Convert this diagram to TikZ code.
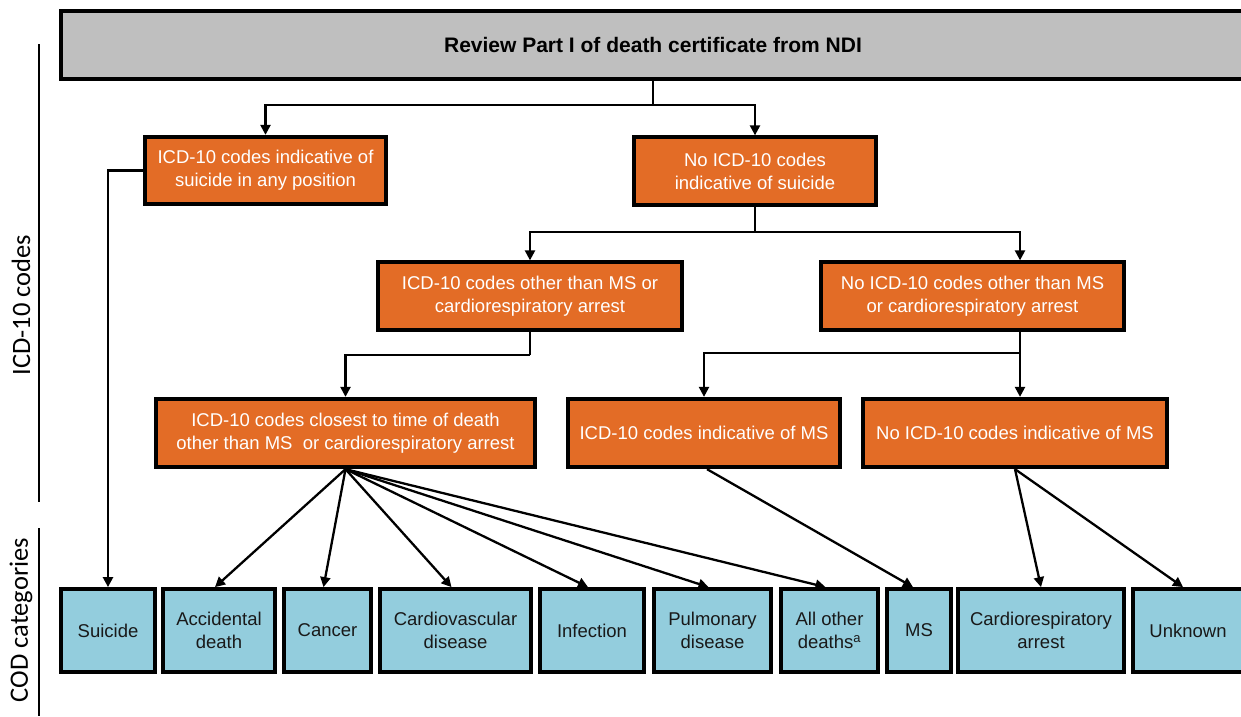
\documentclass[tikz,border=0pt]{standalone}
\usepackage{xcolor}
\usepackage{fontspec}
\setmainfont{Liberation Sans}
\newfontfamily\sidefont{Carlito}
\usepackage{tikz}
\usetikzlibrary{shapes,arrows,arrows.meta,positioning,calc}
\definecolor{codeorange}{HTML}{E36C26}
\definecolor{catblue}{HTML}{93CDDD}
\definecolor{headgray}{HTML}{BFBFBF}

\begin{document}
\begin{tikzpicture}[x=1pt, y=-1pt,
    header/.style={rectangle, draw, line width=3.8pt, fill=headgray, inner sep=0pt, minimum width=1184pt, minimum height=68pt, font=\fontsize{21}{25}\selectfont\bfseries},
    decision/.style={rectangle, draw, line width=3.8pt, fill=codeorange, text=white, inner sep=0pt, minimum height=67.5pt, align=center, font=\fontsize{18.5}{23}\selectfont},
    category/.style={rectangle, draw, line width=3.8pt, fill=catblue, text=black!90, inner sep=0pt, minimum height=83pt, align=center, font=\fontsize{18.5}{23}\selectfont},
    arrow/.style={-{Triangle[length=10pt,width=10pt]}, line width=2.3pt},
    link/.style={line width=2.3pt}
]
    \useasboundingbox (0,0) rectangle (1241,716);

    % Side labels
    \draw[line width=1.3pt] (39,44) -- (39,502);
    \draw[line width=1.3pt] (39,528) -- (39,716);
    \node[rotate=90, font=\sidefont\fontsize{26.5}{30}\selectfont] (icdlabel) at (21,305) {ICD-10 codes};
    \node[rotate=90, font=\sidefont\fontsize{26.5}{30}\selectfont] (codlabel) at (21,620) {COD categories};

    % Review step
    \node[header] (review) at (653,45) {Review Part I of death certificate from NDI};

    % ICD-10 code decisions
    \node[decision, minimum width=241.5pt] (suicbox) at (265.5,170.5) {ICD-10 codes indicative of\\suicide in any position};
    \node[decision, minimum width=242.5pt] (nosuic) at (755,171) {No ICD-10 codes\\indicative of suicide};
    \node[decision, minimum width=304.5pt] (othercodes) at (530,296) {ICD-10 codes other than MS or\\cardiorespiratory arrest};
    \node[decision, minimum width=303.5pt] (noother) at (972.5,296) {No ICD-10 codes other than MS\\or cardiorespiratory arrest};
    \node[decision, minimum width=379.5pt, minimum height=68.5pt] (closest) at (345.5,433) {ICD-10 codes closest to time of death\\other than MS~ or cardiorespiratory arrest};
    \node[decision, minimum width=272.5pt, minimum height=68.5pt] (msbox) at (704,433) {ICD-10 codes indicative of MS};
    \node[decision, minimum width=304.5pt, minimum height=68.5pt] (nomsbox) at (1015,433) {No ICD-10 codes indicative of MS};

    % COD categories
    \node[category, minimum width=94.5pt] (suicide) at (108,630.5) {Suicide};
    \node[category, minimum width=112.5pt] (accident) at (219,630.5) {Accidental\\death};
    \node[category, minimum width=87.5pt] (cancer) at (327.5,630.5) {Cancer};
    \node[category, minimum width=151.5pt] (cardiovasc) at (455.5,630.5) {Cardiovascular\\disease};
    \node[category, minimum width=104.5pt] (infection) at (592,630.5) {Infection};
    \node[category, minimum width=117.5pt] (pulmonary) at (712.5,630.5) {Pulmonary\\disease};
    \node[category, minimum width=97.5pt] (allother) at (829.5,630.5) {All other\\deaths\textsuperscript{a}};
    \node[category, minimum width=64.5pt] (mscat) at (919,630.5) {MS};
    \node[category, minimum width=166.5pt] (cardioresp) at (1041,630.5) {Cardiorespiratory\\arrest};
    \node[category, minimum width=110.5pt] (unknown) at (1188,630.5) {Unknown};

    % Branch points
    \coordinate (split1) at (653,105);
    \coordinate (split2) at (755,232);
    \coordinate (split3) at (1020,353);
    \coordinate (split4) at (530,355);

    % Arrows
    \draw[link] (review.south) -- (split1);
    \draw[arrow] (split1) -| (suicbox);
    \draw[arrow] (split1) -| (nosuic);
    \draw[arrow] (suicbox.west) -| (suicide);
    \draw[link] (nosuic.south) -- (split2);
    \draw[arrow] (split2) -| (othercodes);
    \draw[arrow] (split2) -| (split3 |- noother.north);
    \draw[link] (othercodes.south) -- (split4);
    \draw[arrow] (split4) -| (closest);
    \draw[link] (split3 |- noother.south) -- (split3);
    \draw[arrow] (split3) -| (msbox);
    \draw[arrow] (split3) -- (split3 |- nomsbox.north);
    \foreach \cat in {accident,cancer,cardiovasc,infection,pulmonary,allother}
        \draw[arrow] (closest.south) -- ([xshift=-4pt]\cat.north);
    \draw[arrow] ([xshift=3pt]msbox.south) -- ([xshift=-6pt]mscat.north);
    \draw[arrow] (nomsbox.south) -- (cardioresp.north);
    \draw[arrow] (nomsbox.south) -- ([xshift=-5pt]unknown.north);
\end{tikzpicture}
\end{document}
